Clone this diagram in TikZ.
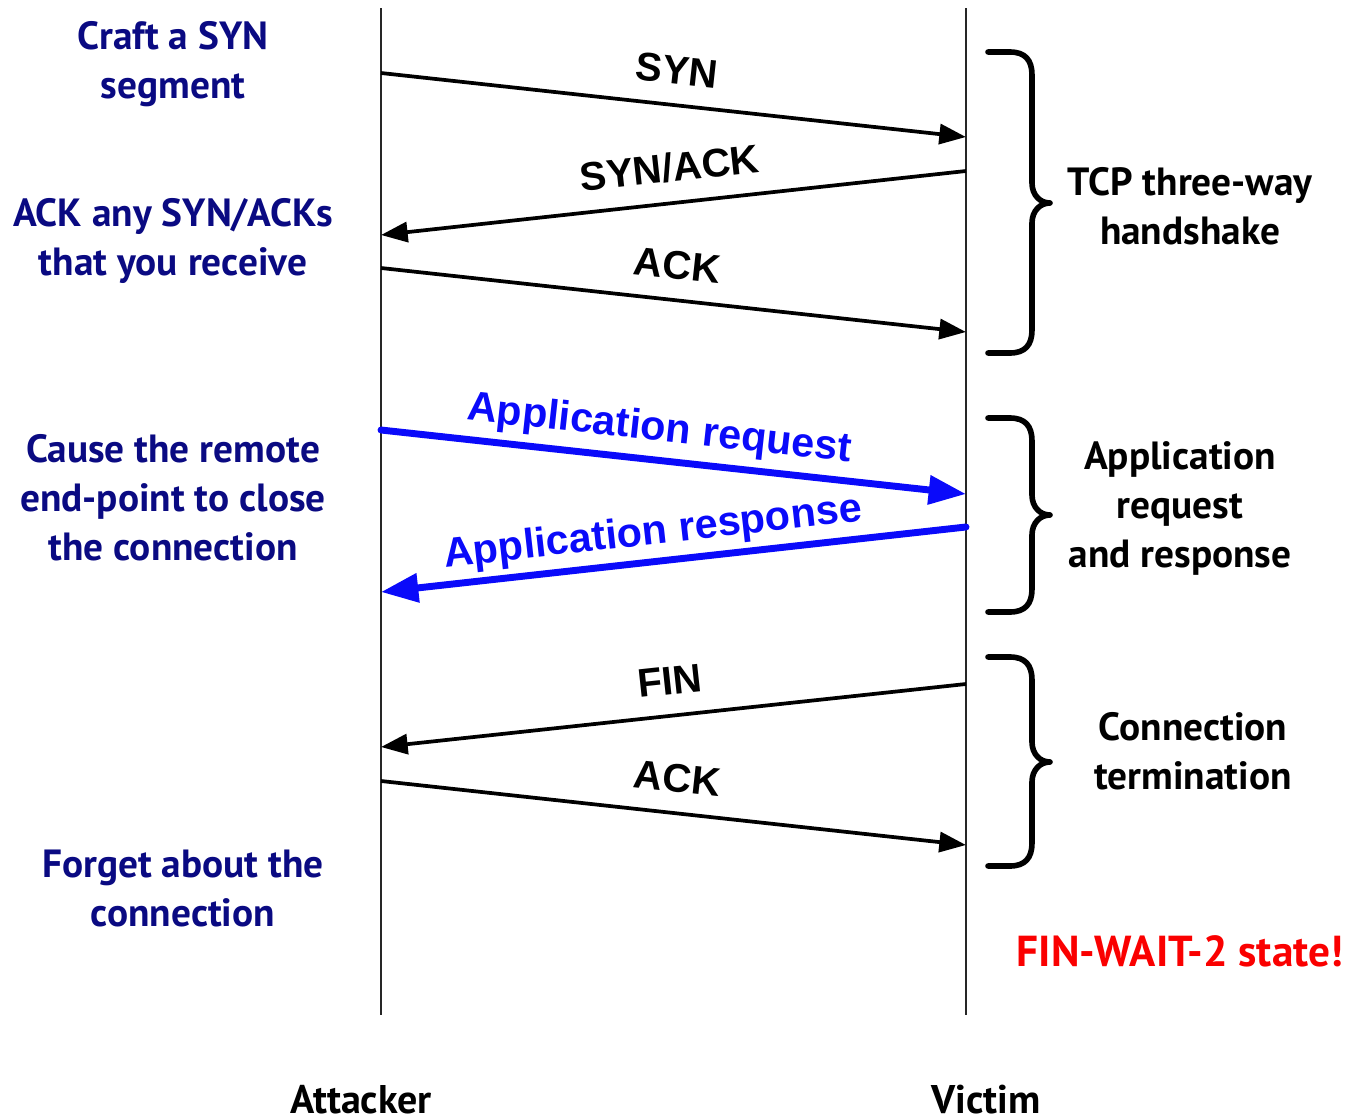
\documentclass[tikz,border=0pt]{standalone}
\usepackage{fontspec}
\setmainfont{PT Sans}
\newfontfamily\arialfont{Liberation Sans}
\usetikzlibrary{arrows.meta}
\definecolor{navytext}{RGB}{10,10,130}
\definecolor{appblue}{RGB}{10,10,250}
\definecolor{redtext}{RGB}{250,0,0}
\begin{document}
\begin{tikzpicture}[x=0.75pt,y=-0.75pt,
  lifeline/.style={line width=1.1pt, draw=black!85},
  msg/.style={line width=2.8pt, -{Triangle[length=20pt,width=15pt]}},
  appmsg/.style={line width=5.2pt, line cap=round, draw=appblue, -{Triangle[length=28pt,width=21pt]}},
  msglabel/.style={font=\arialfont\bfseries\fontsize{30}{36}\selectfont, inner sep=0pt, text depth=0pt, sloped},
  blacklabel/.style={msglabel, above=14.5pt},
  applabel/.style={msglabel, font=\arialfont\bfseries\fontsize{31}{36}\selectfont, text=appblue},
  sidetext/.style={font=\bfseries\fontsize{29.5}{36.75}\selectfont, align=center, inner sep=0pt, text=navytext},
  notetext/.style={font=\bfseries\fontsize{29.5}{36.75}\selectfont, align=center, inner sep=0pt, text=black},
  alerttext/.style={font=\bfseries\fontsize{32.5}{38}\selectfont, inner sep=0pt, text=redtext},
  actor/.style={font=\bfseries\fontsize{30}{34}\selectfont, inner sep=0pt, text depth=0pt, anchor=base},
  bracestyle/.style={line width=4.2pt, line cap=round, line join=round}
]
\useasboundingbox (0,0) rectangle (1350,1117);
% lifelines
\coordinate (atop) at (381,8);
\coordinate (abot) at (381,1015);
\coordinate (vtop) at (966,8);
\coordinate (vbot) at (966,1015);
\draw[lifeline] (atop) -- (abot);
\draw[lifeline] (vtop) -- (vbot);
% message endpoints
\coordinate (a1) at (381,73);  \coordinate (v1) at (966,137);
\coordinate (v2) at (966,171); \coordinate (a2) at (381,235);
\coordinate (a3) at (381,268); \coordinate (v3) at (966,332);
\coordinate (a4) at (381,430); \coordinate (v4) at (966,494);
\coordinate (v5) at (966,527); \coordinate (a5) at (381,592);
\coordinate (v6) at (966,684); \coordinate (a6) at (381,747);
\coordinate (a7) at (381,781); \coordinate (v7) at (966,845);
% messages
\draw[msg] (a1) -- node[blacklabel] {SYN} (v1);
\draw[msg] (v2) -- node[blacklabel] {SYN/ACK} (a2);
\draw[msg] (a3) -- node[blacklabel] {ACK} (v3);
\draw[appmsg] (a4) -- node[applabel, pos=0.47, above=12pt] {Application request} (v4);
\draw[appmsg] (v5) -- node[applabel, pos=0.53, above=10.5pt] {Application response} (a5);
\draw[msg] (v6) -- node[blacklabel] {FIN} (a6);
\draw[msg] (a7) -- node[blacklabel] {ACK} (v7);
% braces
\draw[bracestyle] (988,52) -- (1010,52) .. controls (1025,52) and (1032,60) .. (1032,75) -- (1032,183) .. controls (1032,195) and (1040,203) .. (1050,203) .. controls (1040,203) and (1032,211) .. (1032,223) -- (1032,330) .. controls (1032,345) and (1025,353) .. (1010,353) -- (988,353);
\draw[bracestyle] (988,418) -- (1010,418) .. controls (1025,418) and (1032,426) .. (1032,441) -- (1032,495) .. controls (1032,507) and (1040,515) .. (1050,515) .. controls (1040,515) and (1032,523) .. (1032,535) -- (1032,589) .. controls (1032,604) and (1025,612) .. (1010,612) -- (988,612);
\draw[bracestyle] (988,657) -- (1010,657) .. controls (1025,657) and (1032,665) .. (1032,680) -- (1032,742) .. controls (1032,754) and (1040,762) .. (1050,762) .. controls (1040,762) and (1032,770) .. (1032,782) -- (1032,843) .. controls (1032,858) and (1025,866) .. (1010,866) -- (988,866);
% left texts
\node[sidetext] (t1) at (173,64) {Craft a SYN\\segment};
\node[sidetext] (t2) at (173,241) {ACK any SYN/ACKs\\that you receive};
\node[sidetext] (t3) at (173,498) {Cause the remote\\end-point to close\\the connection};
\node[sidetext] (t4) at (183,888) {Forget about the\\connection};
% right texts
\node[notetext] (n1) at (1190,206) {TCP three-way\\handshake};
\node[notetext] (n2) at (1180,508) {Application\\request\\and response};
\node[notetext] (n3) at (1193,751) {Connection\\termination};
\node[alerttext] (n4) at (1180,951) {FIN-WAIT-2 state!};
% actors
\node[actor] (attacker) at (361,1113) {Attacker};
\node[actor] (victim) at (986,1113) {Victim};
\end{tikzpicture}
\end{document}
